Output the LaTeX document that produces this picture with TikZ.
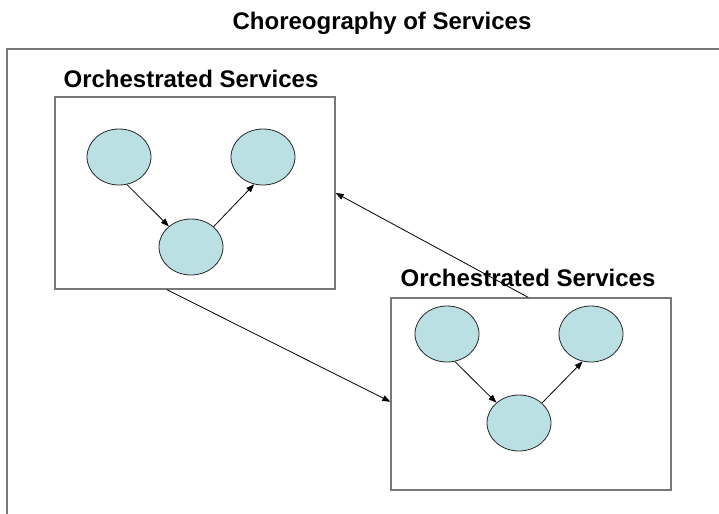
\documentclass[tikz,border=0pt]{standalone}
\usepackage{fontspec}
\setmainfont{Liberation Sans}
\usetikzlibrary{shapes.geometric,arrows.meta,calc}
\definecolor{svcfill}{RGB}{186,224,228}
\definecolor{framegray}{RGB}{120,120,120}
\begin{document}
\begin{tikzpicture}[
    x=0.75pt, y=-0.75pt,
    svc/.style={ellipse, draw=black!85, line width=0.6pt, fill=svcfill, minimum width=48pt, minimum height=42pt, inner sep=0pt},
    orchbox/.style={rectangle, draw=framegray, line width=1pt, minimum width=210pt, minimum height=144pt, inner sep=0pt},
    heading/.style={font=\fontsize{18}{20}\selectfont\bfseries, anchor=base, inner sep=0pt},
    flow/.style={-{Triangle[length=6pt,width=4.5pt]}, line width=0.6pt}
  ]
  \useasboundingbox (0,0) rectangle (719,514);
  \clip (0,0) rectangle (719,514);
  % outer frame
  \draw[framegray, line width=1.5pt] (7,530) -- (7,49) -- (730,49);
  \node[heading] (title) at (382,30) {Choreography of Services};

  % first group
  \node[orchbox] (b1) at (195,193) {};
  \node[heading] (l1) at (191,87) {Orchestrated Services};
  \node[svc] (a1) at (119,157) {};
  \node[svc] (a2) at (263,157) {};
  \node[svc] (a3) at (191,247) {};
  \draw[flow] (a1.-74) -- (a3.137);
  \draw[flow] (a3.42) -- (a2.-108);

  % second group
  \node[orchbox] (b2) at (531,394) {};
  \node[heading] (l2) at (528,286) {Orchestrated Services};
  \node[svc] (c1) at (447,334) {};
  \node[svc] (c2) at (591,334) {};
  \node[svc] (c3) at (519,423) {};
  \draw[flow] (c1.-74) -- (c3.138);
  \draw[flow] (c3.41) -- (c2.-107);

  % between groups
  \draw[flow] ($(b1.south west)!0.4!(b1.south east)$) -- ($(b2.north west)!0.54!(b2.south west)$);
  \draw[flow] ($(b2.north west)!0.49!(b2.north east)$) -- (b1.east);
\end{tikzpicture}
\end{document}
